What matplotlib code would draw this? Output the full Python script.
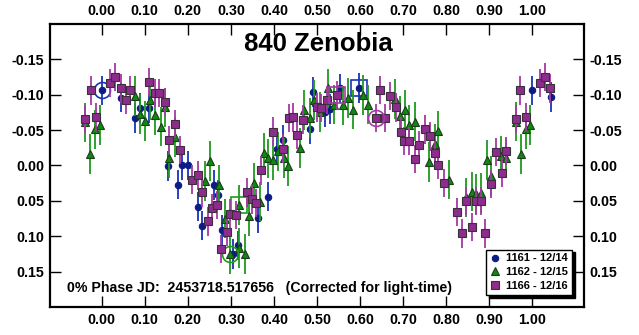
import matplotlib
matplotlib.use("Agg")
import matplotlib.pyplot as plt
from matplotlib.lines import Line2D
import matplotlib.ticker as ticker

plt.rcParams["font.family"] = ["Liberation Sans", "DejaVu Sans"]

# ---------------------------------------------------------------------------
# Lightcurve data: phase, reduced magnitude (per session)
# ---------------------------------------------------------------------------
labels = ["1161 - 12/14", "1162 - 12/15", "1166 - 12/16"]

phase_1161 = [0.000, 0.044, 0.078, 0.088, 0.111, 0.155, 0.178, 0.187, 0.201,
              0.223, 0.233, 0.260, 0.270, 0.280, 0.305, 0.316, 0.363, 0.387,
              0.408, 0.421, 0.483, 0.491, 0.518, 0.530, 0.553, 0.598, 0.999,
              1.043]
mag_1161 = [-0.106, -0.096, -0.067, -0.081, -0.081, 0.001, 0.027, 0.000, 0.000,
            0.058, 0.085, 0.028, 0.042, 0.091, 0.125, 0.113, 0.074, 0.044,
            -0.023, -0.036, -0.052, -0.104, -0.076, -0.080, -0.109, -0.110, -0.106,
            -0.097]

phase_1162 = [-0.038, -0.026, -0.015, -0.003, 0.078, 0.090, 0.101, 0.113, 0.125,
              0.137, 0.148, 0.157, 0.171, 0.239, 0.251, 0.272, 0.286, 0.297,
              0.319, 0.332, 0.343, 0.353, 0.367, 0.377, 0.386, 0.398, 0.409,
              0.423, 0.433, 0.460, 0.471, 0.483, 0.492, 0.508, 0.526, 0.540,
              0.560, 0.572, 0.584, 0.606, 0.619, 0.681, 0.692, 0.704, 0.714,
              0.727, 0.761, 0.774, 0.781, 0.807, 0.847, 0.859, 0.869, 0.882,
              0.894, 0.904, 0.927, 0.940, 0.962, 0.973, 0.985, 0.995, 0.319]
mag_1162 = [-0.061, -0.016, -0.051, -0.057, -0.098, -0.073, -0.063, -0.092, -0.071,
            -0.055, -0.082, -0.011, -0.040, 0.022, -0.006, 0.028, 0.075, 0.125,
            0.117, 0.125, 0.072, 0.025, 0.051, -0.018, -0.010, -0.008, -0.020,
            -0.011, 0.001, -0.025, -0.078, -0.067, -0.093, -0.076, -0.109, -0.086,
            -0.085, -0.095, -0.079, -0.100, -0.086, -0.094, -0.070, -0.078, -0.057,
            -0.062, -0.005, -0.030, -0.049, 0.020, 0.045, 0.037, 0.040, 0.039,
            -0.008, 0.015, -0.013, -0.010, -0.062, -0.016, -0.051, -0.057, 0.056]

phase_1166 = [-0.038, -0.025, -0.013, 0.020, 0.032, 0.045, 0.057, 0.066, 0.111,
              0.123, 0.134, 0.146, 0.157, 0.171, 0.182, 0.210, 0.224, 0.233,
              0.246, 0.257, 0.267, 0.278, 0.291, 0.299, 0.312, 0.337, 0.349,
              0.359, 0.371, 0.399, 0.421, 0.435, 0.444, 0.454, 0.467, 0.500,
              0.510, 0.523, 0.547, 0.637, 0.647, 0.659, 0.669, 0.683, 0.694,
              0.702, 0.714, 0.727, 0.738, 0.750, 0.762, 0.774, 0.782, 0.795,
              0.824, 0.837, 0.847, 0.859, 0.869, 0.882, 0.891, 0.904, 0.916,
              0.929, 0.939, 0.962, 0.971, 0.985, 1.018, 1.030, 1.041]
mag_1166 = [-0.066, -0.106, -0.069, -0.117, -0.125, -0.109, -0.093, -0.106, -0.118,
            -0.102, -0.102, -0.090, -0.036, -0.059, -0.022, 0.020, 0.014, 0.038,
            0.079, 0.060, 0.056, 0.118, 0.094, 0.068, 0.070, 0.038, 0.048,
            0.053, 0.007, -0.048, -0.024, -0.067, -0.068, -0.043, -0.065, -0.082,
            -0.081, -0.093, -0.099, -0.067, -0.107, -0.067, -0.098, -0.082, -0.048,
            -0.035, -0.035, -0.009, -0.029, -0.051, -0.041, -0.017, -0.001, 0.025,
            0.066, 0.096, 0.050, 0.087, 0.050, 0.050, 0.096, 0.026, -0.019,
            0.010, -0.020, -0.066, -0.106, -0.069, -0.117, -0.125, -0.109]

# typical photometric error per session
err_1161 = 0.021
err_1162 = 0.028
err_1166 = 0.020

# index of first / last observation of each session
first_last = {
    "1161": (0, 25),
    "1162": (17, 62),
    "1166": (39, 38),
}

epoch_jd = "2453718.517656"
phase_ticks = [0.0, 0.1, 0.2, 0.3, 0.4, 0.5, 0.6, 0.7, 0.8, 0.9, 1.0]
mag_ticks = [-0.15, -0.10, -0.05, 0.0, 0.05, 0.10, 0.15]

# ---------------------------------------------------------------------------
fig = plt.figure(figsize=(6.39, 3.35), dpi=100)
ax = fig.add_axes([0.0782, 0.0836, 0.8357, 0.8448])

series = [
    ("1161", phase_1161, mag_1161, err_1161, "o", 4.6, "#0c1c86", "#0c1c86", "#1a33b8"),
    ("1162", phase_1162, mag_1162, err_1162, "^", 6.0, "#0d8a0d", "#1e3a1e", "#1f9a1f"),
    ("1166", phase_1166, mag_1166, err_1166, "s", 6.2, "#8e2c8e", "#3a303a", "#a43aa4"),
]

handles = []
for i, (key, ph, mg, err, mk, ms, fc, ec, barc) in enumerate(series):
    z = 2 + i
    ax.errorbar(ph, mg, yerr=err, fmt="none", ecolor=barc, elinewidth=1.3,
                capsize=0, zorder=z)
    ax.plot(ph, mg, linestyle="none", marker=mk, markersize=ms,
            markerfacecolor=fc, markeredgecolor=ec, markeredgewidth=0.8,
            zorder=z + 0.5)
    # ring the first point, box the last point of the session
    i0, i1 = first_last[key]
    ax.plot(ph[i0], mg[i0], marker="o", markersize=11.5, markerfacecolor="none",
            markeredgecolor=barc, markeredgewidth=1.2, zorder=z + 0.6)
    ax.plot(ph[i1], mg[i1], marker="s", markersize=11.5, markerfacecolor="none",
            markeredgecolor=barc, markeredgewidth=1.2, zorder=z + 0.6)
    handles.append(Line2D([], [], linestyle="none", marker=mk, markersize=ms,
                          markerfacecolor=fc, markeredgecolor=ec,
                          markeredgewidth=0.8))

ax.set_xlim(-0.12, 1.12)
ax.set_ylim(0.20, -0.20)

ax.set_xticks(phase_ticks)
ax.set_yticks(mag_ticks)
fmt = ticker.FuncFormatter(lambda v, p: f"{round(v, 2) + 0:.2f}")
ax.xaxis.set_major_formatter(fmt)
ax.yaxis.set_major_formatter(fmt)
ax.tick_params(axis="both", which="major", direction="in", length=8, width=1.0,
               top=True, bottom=True, left=True, right=True,
               labeltop=True, labelbottom=True, labelleft=True, labelright=True,
               labelsize=10.3, pad=4)
for tl in ax.xaxis.get_major_ticks() + ax.yaxis.get_major_ticks():
    tl.label1.set_fontweight("bold")
    tl.label2.set_fontweight("bold")

for sp in ax.spines.values():
    sp.set_linewidth(1.6)
    sp.set_color("black")

ax.text(0.503, 0.929, "840 Zenobia", transform=ax.transAxes, ha="center",
        va="center", fontsize=18.5, fontweight="bold")
ax.text(0.032, 0.067,
        f"0% Phase JD:  {epoch_jd}   (Corrected for light-time)",
        transform=ax.transAxes, ha="left", va="center", fontsize=10.2,
        fontweight="bold")

leg = ax.legend(handles, labels, loc="lower right", bbox_to_anchor=(0.978, 0.042),
                frameon=True, fancybox=False, shadow={"color": "black", "alpha": 1.0},
                edgecolor="black", framealpha=1.0,
                prop={"weight": "bold", "size": 8}, handlelength=1.0,
                handletextpad=0.5, borderpad=0.35, labelspacing=0.35,
                borderaxespad=0.0)
leg.get_frame().set_linewidth(1.0)
leg.set_zorder(10)

fig.savefig("out.png", dpi=100)
